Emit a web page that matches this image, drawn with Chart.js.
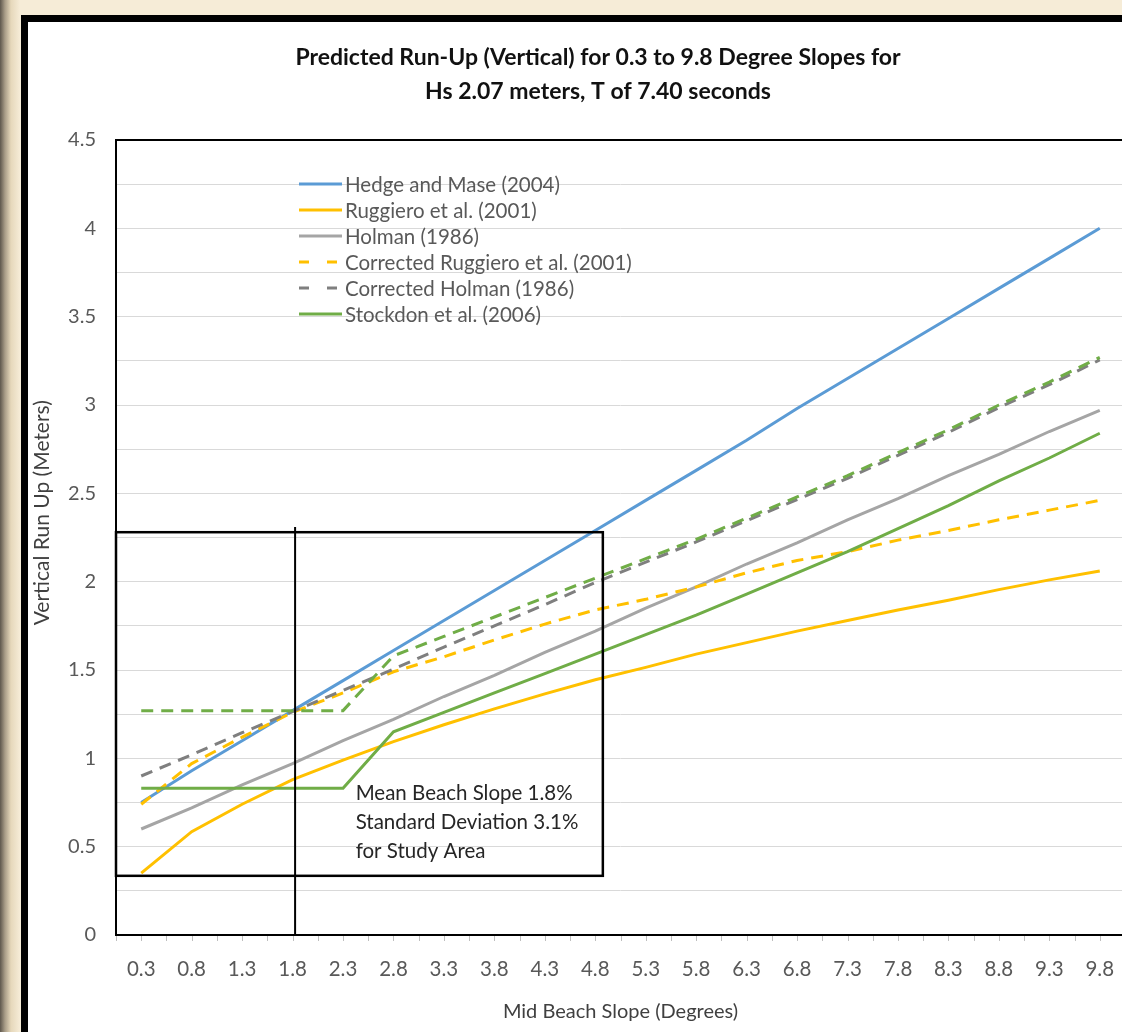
<!DOCTYPE html>
<html>
<head>
<meta charset="utf-8">
<title>Predicted Run-Up</title>
<script src="https://cdn.jsdelivr.net/npm/chart.js@4"></script>
<style>
  html, body { margin: 0; padding: 0; width: 1122px; height: 1032px; overflow: hidden; }
  body {
    background: linear-gradient(to right, #5e574d 0px, #a99d88 5px, #e6d8bb 11px, #f6ecd7 20px);
  }
  #panel {
    position: absolute; left: 21px; top: 15px;
    width: 1160px; height: 1030px;
    background: #fff; border: 7px solid #000;
  }
  #chart { position: absolute; left: 0; top: 0; }
</style>
</head>
<body>
<div id="panel"><canvas id="chart" width="1140" height="1010"></canvas></div>
<script>
// categories: mid beach slope in degrees
const slopes = ["0.3", "0.8", "1.3", "1.8", "2.3", "2.8", "3.3", "3.8", "4.3", "4.8",
                "5.3", "5.8", "6.3", "6.8", "7.3", "7.8", "8.3", "8.8", "9.3", "9.8"];

// vertical run-up (m)
const hedgeMase    = [0.75, 0.93, 1.10, 1.27, 1.44, 1.61, 1.78, 1.95, 2.12, 2.29,
                      2.46, 2.63, 2.80, 2.98, 3.15, 3.32, 3.49, 3.66, 3.83, 4.00];
const ruggiero     = [0.35, 0.585, 0.74, 0.88, 0.99, 1.095, 1.19, 1.28, 1.365, 1.445,
                      1.515, 1.59, 1.655, 1.72, 1.78, 1.84, 1.895, 1.955, 2.01, 2.06];
const holman       = [0.60, 0.72, 0.85, 0.97, 1.10, 1.22, 1.35, 1.47, 1.60, 1.72,
                      1.85, 1.97, 2.10, 2.22, 2.35, 2.47, 2.60, 2.72, 2.85, 2.97];
const corrRuggiero = [0.74, 0.97, 1.12, 1.26, 1.37, 1.49, 1.575, 1.67, 1.76, 1.84,
                      1.90, 1.97, 2.05, 2.12, 2.17, 2.235, 2.29, 2.35, 2.405, 2.46];
const corrHolman   = [0.90, 1.02, 1.145, 1.265, 1.385, 1.505, 1.63, 1.75, 1.87, 1.995,
                      2.11, 2.225, 2.345, 2.465, 2.585, 2.715, 2.845, 2.985, 3.115, 3.255];
const stockdon     = [0.83, 0.83, 0.83, 0.83, 0.83, 1.15, 1.26, 1.37, 1.48, 1.59,
                      1.70, 1.81, 1.93, 2.05, 2.17, 2.30, 2.43, 2.57, 2.70, 2.84];
const corrStockdon = [1.27, 1.27, 1.27, 1.27, 1.27, 1.58, 1.69, 1.80, 1.91, 2.02,
                      2.13, 2.24, 2.36, 2.48, 2.60, 2.73, 2.86, 3.00, 3.13, 3.27];

// labelled y ticks (grid runs every 0.25)
const yLabels = [0, 0.5, 1, 1.5, 2, 2.5, 3, 3.5, 4, 4.5];

const FONT = "Lato, 'Noto Sans', sans-serif";
const GREY_TEXT = "#595959";

function line(label, data, color, dash, inLegend) {
  return {
    label, data,
    borderColor: color, backgroundColor: color,
    borderWidth: 3, borderDash: dash || [],
    pointRadius: 0, tension: 0, fill: false,
    inLegend: inLegend !== false
  };
}

const datasets = [
  line("Hedge and Mase (2004)", hedgeMase, "#5B9BD5"),
  line("Ruggiero et al. (2001)", ruggiero, "#FFC000"),
  line("Holman (1986)", holman, "#A5A5A5"),
  line("Corrected Ruggiero et al. (2001)", corrRuggiero, "#FFC000", [12, 8]),
  line("Corrected Holman (1986)", corrHolman, "#7F7F7F", [12, 8]),
  line("Stockdon et al. (2006)", stockdon, "#70AD47"),
  line("Corrected Stockdon et al. (2006)", corrStockdon, "#70AD47", [12, 8], false)
];
// excel order: later series on top
datasets.forEach((d, i) => { d.order = datasets.length - i; });

// legend drawn inside the plot area
const insideLegend = {
  id: "insideLegend",
  afterDatasetsDraw(chart, args, o) {
    const { ctx, chartArea: a } = chart;
    ctx.save();
    ctx.font = o.fontSize + "px " + FONT;
    ctx.textBaseline = "middle";
    ctx.fillStyle = GREY_TEXT;
    let yy = a.top + o.top;
    chart.data.datasets.forEach(ds => {
      if (!ds.inLegend) return;
      const x0 = a.left + o.left;
      ctx.strokeStyle = ds.borderColor;
      ctx.lineWidth = 3;
      ctx.setLineDash(ds.borderDash.length ? [10, 18] : []);
      ctx.beginPath();
      ctx.moveTo(x0, yy);
      ctx.lineTo(x0 + o.sample, yy);
      ctx.stroke();
      ctx.setLineDash([]);
      ctx.fillText(ds.label, x0 + o.sample + 3, yy + 1);
      yy += o.spacing;
    });
    ctx.restore();
  }
};

// plot border, axis tick marks, y title and the study area box
const studyArea = {
  id: "studyArea",
  afterDatasetsDraw(chart, args, o) {
    const { ctx, chartArea: a, scales: { x, y } } = chart;
    ctx.save();
    // tick marks at every half category
    const half = (x.getPixelForValue(1) - x.getPixelForValue(0)) / 2;
    ctx.strokeStyle = "#BFBFBF";
    ctx.lineWidth = 1;
    for (let i = 0; i <= slopes.length * 2; i++) {
      const px = Math.round(a.left + i * half) + 0.5;
      ctx.beginPath();
      ctx.moveTo(px, a.bottom);
      ctx.lineTo(px, a.bottom + 6);
      ctx.stroke();
    }
    // plot area border
    ctx.strokeStyle = "#000";
    ctx.lineWidth = 2;
    ctx.strokeRect(a.left, a.top, a.width + 20, a.height);
    // study area box
    const bx = x.getPixelForValue(o.boxRight);
    const bt = y.getPixelForValue(o.boxTop);
    const bb = y.getPixelForValue(o.boxBottom);
    ctx.lineWidth = 2.5;
    ctx.strokeRect(a.left, bt, bx - a.left, bb - bt);
    // mean slope line
    const mx = x.getPixelForValue(o.meanIndex);
    ctx.lineWidth = 2;
    ctx.beginPath();
    ctx.moveTo(mx, y.getPixelForValue(o.meanTop));
    ctx.lineTo(mx, a.bottom);
    ctx.stroke();
    // note
    ctx.fillStyle = "#262626";
    ctx.font = o.fontSize + "px " + FONT;
    ctx.textBaseline = "middle";
    const tx = x.getPixelForValue(o.textIndex);
    let ty = y.getPixelForValue(o.textValue);
    o.lines.forEach(t => { ctx.fillText(t, tx, ty); ty += o.lineGap; });
    // y axis title (sits a little above the plot's middle, as in excel)
    ctx.fillStyle = "#404040";
    ctx.font = o.yTitleSize + "px " + FONT;
    ctx.textAlign = "center";
    ctx.translate(a.left - o.yTitleGap, y.getPixelForValue(o.yTitleAt));
    ctx.rotate(-Math.PI / 2);
    ctx.fillText(o.yTitle, 0, 0);
    ctx.restore();
  }
};

new Chart(document.getElementById("chart").getContext("2d"), {
  type: "line",
  data: { labels: slopes, datasets },
  plugins: [studyArea, insideLegend],
  options: {
    responsive: false,
    animation: false,
    layout: { padding: 0 },
    plugins: {
      legend: { display: false },
      tooltip: { enabled: false },
      title: {
        display: true,
        text: ["Predicted Run-Up (Vertical) for 0.3 to 9.8 Degree Slopes for",
               "Hs 2.07 meters, T of 7.40 seconds"],
        color: "#111",
        font: { family: FONT, size: 23, weight: "bold", lineHeight: 34 / 23 },
        padding: { top: 19, bottom: 31 }
      },
      insideLegend: { left: 183, top: 44, spacing: 26, sample: 43, fontSize: 20.5 },
      studyArea: {
        boxRight: 9.15, boxTop: 2.28, boxBottom: 0.335,
        meanIndex: 3.05, meanTop: 2.31,
        textIndex: 4.25, textValue: 0.80, lineGap: 29, fontSize: 20.5,
        lines: ["Mean Beach Slope 1.8%", "Standard Deviation 3.1%", "for Study Area"],
        yTitle: "Vertical Run Up (Meters)", yTitleSize: 21, yTitleGap: 74, yTitleAt: 2.39
      }
    },
    scales: {
      x: {
        offset: true,
        grid: { display: false, drawTicks: false },
        border: { display: false },
        ticks: {
          color: GREY_TEXT, autoSkip: false, maxRotation: 0, padding: 22,
          font: { family: FONT, size: 20.5 }
        },
        title: {
          display: true, text: "Mid Beach Slope (Degrees)", color: "#404040",
          font: { family: FONT, size: 20 }, padding: { top: 4, bottom: 8 }
        },
        afterFit(s) { s.height = 97; }
      },
      y: {
        min: 0, max: 4.5,
        grid: { color: "#D9D9D9", lineWidth: 1, drawTicks: false },
        border: { display: false },
        ticks: {
          stepSize: 0.25, color: GREY_TEXT, padding: 20,
          font: { family: FONT, size: 20 },
          callback: v => (yLabels.includes(v) ? String(v) : "")
        },
        afterFit(s) { s.width = 88; }
      },
      // spacer on the right so the plot runs past the picture's edge
      y2: {
        position: "right",
        grid: { display: false, drawTicks: false },
        border: { display: false },
        ticks: { display: false },
        afterFit(s) { s.width = 43; }
      }
    }
  }
});
</script>
</body>
</html>
